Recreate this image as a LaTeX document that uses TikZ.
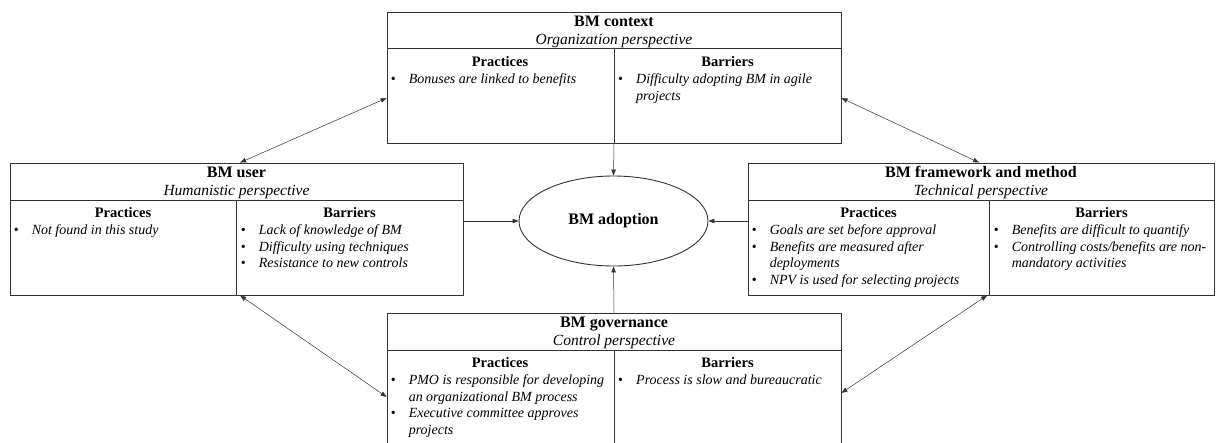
\documentclass[tikz,border=0pt]{standalone}
\usepackage{fontspec}
\setmainfont{Liberation Serif}
\usetikzlibrary{arrows.meta, calc, shapes.geometric}
\definecolor{linegray}{HTML}{333333}

% bullet list as a small table: one row per printed line
\newcommand{\bl}{\makebox[18pt][l]{\upshape\textbullet}}
\newcommand{\blist}[1]{\begin{tabular}[t]{@{}l@{}l@{}}#1\end{tabular}}

\begin{document}
\begin{tikzpicture}[x=1pt, y=-1pt, >={Triangle[length=6pt, width=4.5pt]},
  panel/.style={draw=linegray, line width=0.9pt, inner sep=0pt},
  rule/.style={draw=linegray, line width=0.9pt},
  link/.style={draw=black!80, line width=0.5pt},
  title/.style={font=\bfseries\fontsize{16}{18}\selectfont, anchor=base, inner sep=0pt},
  sub/.style={font=\itshape\fontsize{15.5}{18}\selectfont, anchor=base, inner sep=0pt},
  head/.style={font=\bfseries\fontsize{14.5}{17}\selectfont, anchor=base, inner sep=0pt},
  body/.style={font=\itshape\fontsize{14}{16.5}\selectfont, anchor=base west, inner sep=0pt}]
  \useasboundingbox (0,0) rectangle (1216,442);
  \clip (0,0) rectangle (1216,442);

  % BM context (top)
  \node[panel, minimum width=454pt, minimum height=131pt] (ctx) at (614,77.5) {};
  \draw[rule] ($(ctx.north west)+(0,37)$) -- ($(ctx.north east)+(0,37)$);
  \draw[rule] ($(ctx.north)+(0,37)$) -- (ctx.south);
  \node[title] (ctx-t) at ($(ctx.north)+(0,15)$) {BM context};
  \node[sub] (ctx-s) at ($(ctx.north)+(0,33)$) {Organization perspective};
  \node[head] (ctx-hp) at ($(ctx.north west)+(113.5,55)$) {Practices};
  \node[head] (ctx-hb) at ($(ctx.north)+(113.5,55)$) {Barriers};
  \node[body] (ctx-p) at ($(ctx.north west)+(4,72)$) {\blist{\bl & Bonuses are linked to benefits}};
  \node[body] (ctx-b) at ($(ctx.north)+(4,72)$) {\blist{\bl & Difficulty adopting BM in agile\\ & projects}};

  % BM user (left)
  \node[panel, minimum width=453pt, minimum height=132pt] (usr) at (236.5,229) {};
  \draw[rule] ($(usr.north west)+(0,38)$) -- ($(usr.north east)+(0,38)$);
  \draw[rule] ($(usr.north west)+(227,38)$) -- ($(usr.south west)+(227,0)$);
  \node[title] (usr-t) at ($(usr.north)+(0,15)$) {BM user};
  \node[sub] (usr-s) at ($(usr.north)+(0,33)$) {Humanistic perspective};
  \node[head] (usr-hp) at ($(usr.north west)+(113.5,55)$) {Practices};
  \node[head] (usr-hb) at ($(usr.north west)+(340,55)$) {Barriers};
  \node[body] (usr-p) at ($(usr.north west)+(4,72)$) {\blist{\bl & Not found in this study}};
  \node[body] (usr-b) at ($(usr.north west)+(231,72)$) {\blist{\bl & Lack of knowledge of BM\\ \bl & Difficulty using techniques\\ \bl & Resistance to new controls}};

  % BM framework and method (right)
  \node[panel, minimum width=466pt, minimum height=132pt] (frm) at (981,229) {};
  \draw[rule] ($(frm.north west)+(0,38)$) -- ($(frm.north east)+(0,38)$);
  \draw[rule] ($(frm.north west)+(242,38)$) -- ($(frm.south west)+(242,0)$);
  \node[title] (frm-t) at ($(frm.north)+(0,15)$) {BM framework and method};
  \node[sub] (frm-s) at ($(frm.north)+(0,33)$) {Technical perspective};
  \node[head] (frm-hp) at ($(frm.north west)+(121,55)$) {Practices};
  \node[head] (frm-hb) at ($(frm.north west)+(354,55)$) {Barriers};
  \node[body] (frm-p) at ($(frm.north west)+(4,72)$) {\blist{\bl & Goals are set before approval\\ \bl & Benefits are measured after\\ & deployments\\ \bl & NPV is used for selecting projects}};
  \node[body] (frm-b) at ($(frm.north west)+(246,72)$) {\blist{\bl & Benefits are difficult to quantify\\ \bl & Controlling costs/benefits are non-\\ & mandatory activities}};

  % BM governance (bottom)
  \node[panel, minimum width=454pt, minimum height=133pt] (gov) at (614,379.5) {};
  \draw[rule] ($(gov.north west)+(0,38)$) -- ($(gov.north east)+(0,38)$);
  \draw[rule] ($(gov.north)+(0,38)$) -- (gov.south);
  \node[title] (gov-t) at ($(gov.north)+(0,15)$) {BM governance};
  \node[sub] (gov-s) at ($(gov.north)+(0,33)$) {Control perspective};
  \node[head] (gov-hp) at ($(gov.north west)+(113.5,55)$) {Practices};
  \node[head] (gov-hb) at ($(gov.north)+(113.5,55)$) {Barriers};
  \node[body] (gov-p) at ($(gov.north west)+(4,72)$) {\blist{\bl & PMO is responsible for developing\\ & an organizational BM process\\ \bl & Executive committee approves\\ & projects}};
  \node[body] (gov-b) at ($(gov.north)+(4,72)$) {\blist{\bl & Process is slow and bureaucratic}};

  % BM adoption
  \node[ellipse, draw=linegray, line width=0.9pt, minimum width=189pt, minimum height=90pt, inner sep=0pt, font=\bfseries\fontsize{16}{18}\selectfont] (ado) at (613.5,221) {BM adoption};

  % links to adoption
  \draw[link, ->] (ado.west -| usr.east) -- (ado.west);
  \draw[link, ->] (ado.east -| frm.west) -- (ado.east);
  \draw[link, ->] (ctx.south) -- (ado.north);
  \draw[link, ->] (gov.north) -- (ado.south);

  % links between perspectives
  \draw[link, <->] ($(ctx.north west)!0.656!(ctx.south west)$) -- ($(usr.north west)!0.508!(usr.north east)$);
  \draw[link, <->] ($(ctx.north east)!0.656!(ctx.south east)$) -- ($(frm.north west)!0.496!(frm.north east)$);
  \draw[link, <->] ($(usr.south west)!0.508!(usr.south east)$) -- ($(gov.north west)!0.63!(gov.south west)$);
  \draw[link, <->] ($(frm.south west)!0.513!(frm.south east)$) -- ($(gov.north east)!0.60!(gov.south east)$);
\end{tikzpicture}
\end{document}
